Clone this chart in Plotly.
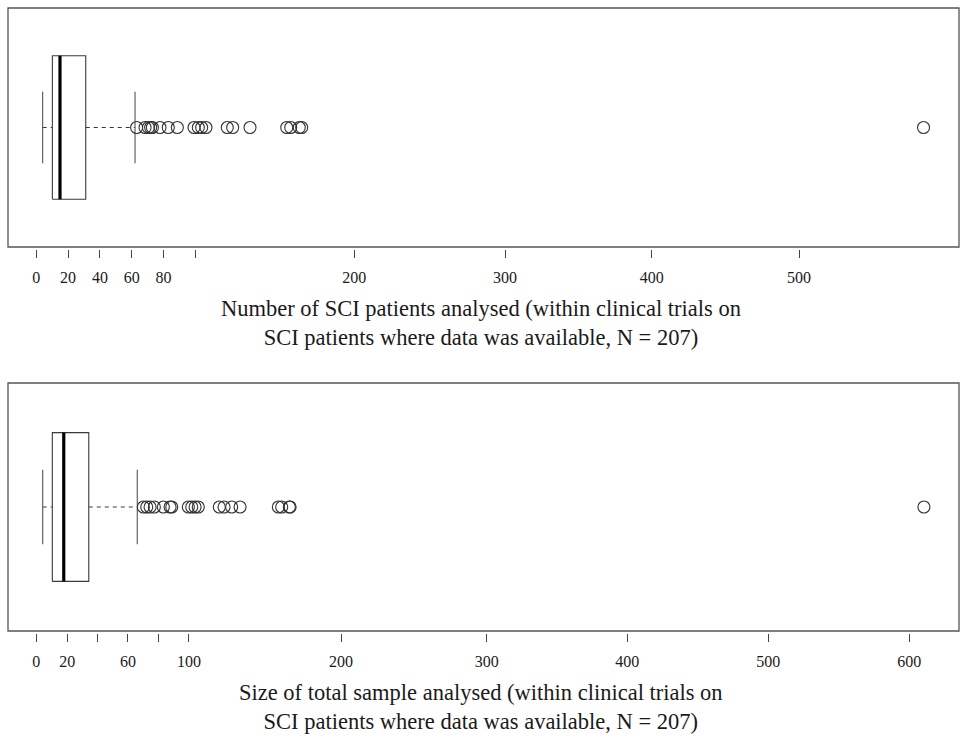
import plotly.graph_objects as go

# ---------------- data ----------------
# Top panel: number of SCI patients analysed
top_whisker_low = 4.0
top_q1 = 10.1
top_median = 14.9
top_q3 = 31.1
top_whisker_high = 62.1
top_outliers = [63.1, 68.4, 70.5, 71.9, 73.0, 77.8, 83.0, 88.7, 99.2, 101.9,
                104.0, 106.7, 120.1, 123.5, 134.4, 157.5, 160.0, 165.4, 166.9, 558.0]

# Bottom panel: size of total sample analysed
bot_whisker_low = 4.2
bot_q1 = 10.5
bot_median = 18.0
bot_q3 = 34.4
bot_whisker_high = 66.2
bot_outliers = [70.2, 72.4, 74.6, 77.4, 83.3, 87.7, 88.8, 99.7, 101.9, 104.1,
                106.2, 120.0, 123.1, 128.1, 133.6, 158.7, 160.9, 165.9, 166.4, 582.0]

# Tick labels and where they sit on the drawn axis
top_tick_labels = ["0", "20", "40", "60", "80", "", "200", "300", "400", "500"]
top_tick_pos = [0, 20, 40, 60, 80, 100, 200, 294.8, 387.0, 479.7]
bot_tick_labels = ["0", "20", "", "60", "", "100", "200", "300", "400", "500", "600"]
bot_tick_pos = [0, 20.3, 40.3, 60.1, 80.3, 100.1, 199.8, 295.3, 387.5, 480.0, 572.3]

top_title = "Number of SCI patients analysed (within clinical trials on<br>SCI patients where data was available, N = 207)"
bot_title = "Size of total sample analysed (within clinical trials on<br>SCI patients where data was available, N = 207)"

# ---------------- figure ----------------
FONT = "Liberation Serif, Times New Roman, serif"
LINE = "#3a3a3a"
FRAME = "#555555"
BOX_H = 0.6
STAPLE_H = 0.3

fig = go.Figure()


def add_panel(xa, ya, wl, q1, med, q3, wh, outl):
    # box rectangle
    fig.add_trace(go.Scatter(x=[q1, q3, q3, q1, q1], y=[-BOX_H, -BOX_H, BOX_H, BOX_H, -BOX_H],
                             mode="lines", line=dict(color=LINE, width=1.1),
                             xaxis=xa, yaxis=ya, hoverinfo="skip", showlegend=False))
    # median
    fig.add_trace(go.Scatter(x=[med, med], y=[-BOX_H, BOX_H], mode="lines",
                             line=dict(color="#000000", width=3.2),
                             xaxis=xa, yaxis=ya, hoverinfo="skip", showlegend=False))
    # dashed whiskers
    for a, b in [(wl, q1), (q3, wh)]:
        fig.add_trace(go.Scatter(x=[a, b], y=[0, 0], mode="lines",
                                 line=dict(color=LINE, width=1, dash="4px,4px"),
                                 xaxis=xa, yaxis=ya, hoverinfo="skip", showlegend=False))
    # staples
    for v in (wl, wh):
        fig.add_trace(go.Scatter(x=[v, v], y=[-STAPLE_H, STAPLE_H], mode="lines",
                                 line=dict(color="#555555", width=1.1),
                                 xaxis=xa, yaxis=ya, hoverinfo="skip", showlegend=False))
    # outliers
    fig.add_trace(go.Scatter(x=outl, y=[0] * len(outl), mode="markers",
                             marker=dict(symbol="circle-open", size=12,
                                         line=dict(color="#333333", width=1.1), color="#333333"),
                             xaxis=xa, yaxis=ya, showlegend=False))


add_panel("x", "y", top_whisker_low, top_q1, top_median, top_q3, top_whisker_high, top_outliers)
add_panel("x2", "y2", bot_whisker_low, bot_q1, bot_median, bot_q3, bot_whisker_high, bot_outliers)

# paper: top at 7px, bottom at 633px -> height 626
PB = 633.0
PH = 626.0


def fy(px):
    return (PB - px) / PH


axis_common = dict(showgrid=False, zeroline=False, showline=False, ticks="outside",
                   ticklen=8, tickwidth=1, tickcolor="#444444",
                   tickfont=dict(family=FONT, size=16, color="#1a1a1a"),
                   anchor="free", fixedrange=True, ticklabelstandoff=6)

fig.update_layout(
    width=966, height=738,
    margin=dict(l=8, r=7, t=7, b=105),
    paper_bgcolor="white", plot_bgcolor="white",
    showlegend=False,
    xaxis=dict(domain=[0, 1], range=[-17.8, 580.3], tickmode="array",
               tickvals=top_tick_pos, ticktext=top_tick_labels,
               position=fy(249), **axis_common),
    yaxis=dict(domain=[fy(247), fy(8)], range=[-1, 1], visible=False, anchor="x", fixedrange=True),
    xaxis2=dict(domain=[0, 1], range=[-18.56, 605.0], tickmode="array",
                tickvals=bot_tick_pos, ticktext=bot_tick_labels,
                position=0, **axis_common),
    yaxis2=dict(domain=[fy(631), fy(383)], range=[-1, 1], visible=False, anchor="x2", fixedrange=True),
)

# frames
for xr, yr in [("x domain", "y domain"), ("x2 domain", "y2 domain")]:
    fig.add_shape(type="rect", xref=xr, yref=yr, x0=0, x1=1, y0=0, y1=1,
                  line=dict(color=FRAME, width=1.3), layer="above")

# axis titles
fig.add_annotation(text=top_title, xref="paper", yref="paper", x=(481 - 8) / 951, y=fy(323),
                   xanchor="center", yanchor="middle", showarrow=False, align="center",
                   font=dict(family=FONT, size=22.5, color="#1a1a1a"))
fig.add_annotation(text=bot_title, xref="paper", yref="paper", x=(481 - 8) / 951, y=fy(707),
                   xanchor="center", yanchor="middle", showarrow=False, align="center",
                   font=dict(family=FONT, size=22.5, color="#1a1a1a"))

fig.write_html("out.html", config={"displayModeBar": False},
               post_script="document.body.style.margin='0';document.body.style.overflow='hidden';")
